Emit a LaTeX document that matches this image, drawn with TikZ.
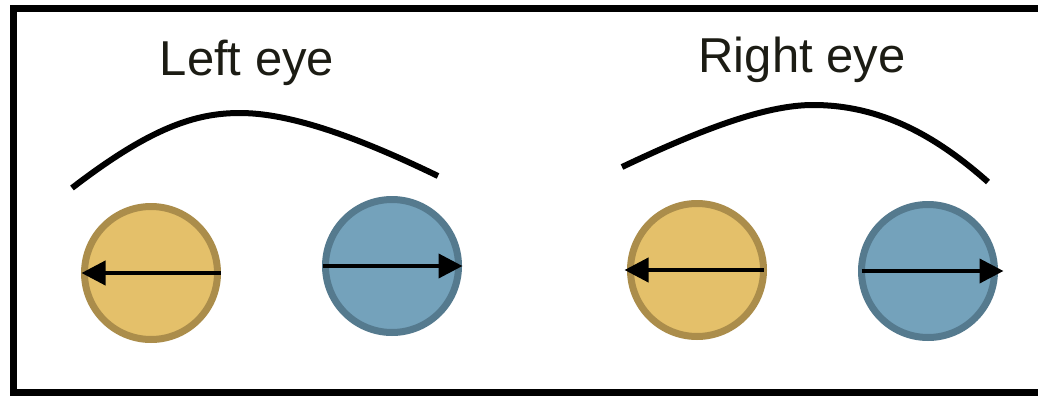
\documentclass[tikz,border=0pt]{standalone}
\usepackage{fontspec}
\setmainfont{Liberation Sans}
\usetikzlibrary{arrows.meta}
\definecolor{yfill}{HTML}{E4C06A}
\definecolor{ydraw}{HTML}{AB8D4B}
\definecolor{bfill}{HTML}{74A2BB}
\definecolor{bdraw}{HTML}{557A8E}
\definecolor{txt}{HTML}{1C1C14}
\begin{document}
\begin{tikzpicture}[x=1pt,y=-1pt,
  eye/.style={circle,minimum size=133pt,inner sep=0pt,outer sep=0pt,line width=7pt},
  yeye/.style={eye,fill=yfill,draw=ydraw},
  beye/.style={eye,fill=bfill,draw=bdraw},
  dirarrow/.style={line width=4pt,-{Triangle[length=24pt,width=24pt]}},
  brow/.style={line width=6pt},
  lbl/.style={font=\fontsize{49}{55}\selectfont,text=txt,anchor=base,inner sep=0pt}]
\useasboundingbox (0,0) rectangle (1038,396);
\clip (0,0) rectangle (1038,396);
\draw[line width=7pt] (13.5,9) rectangle (1060,392.5);
\node[lbl] (lt) at (247,75) {Left eye};
\node[lbl] (rt) at (802,72) {Right eye};
\draw[brow] (72,188) .. controls (150,128) and (195,113) .. (240,113)
  .. controls (300,113) and (380,148) .. (438,176);
\draw[brow] (622,167) .. controls (700,130) and (765,105) .. (813,105)
  .. controls (880,105) and (935,135) .. (988,182);
\node[yeye] (y1) at (151,273) {};
\node[beye] (b1) at (392,266) {};
\node[yeye] (y2) at (697,270) {};
\node[beye] (b2) at (928,271) {};
\draw[dirarrow] ([xshift=3pt]y1.east) -- ([xshift=-3pt]y1.west);
\draw[dirarrow] ([xshift=-3pt]b1.west) -- ([xshift=4pt]b1.east);
\draw[dirarrow] (y2.east) -- ([xshift=-6pt]y2.west);
\draw[dirarrow] (b2.west) -- ([xshift=9pt]b2.east);
\end{tikzpicture}
\end{document}
